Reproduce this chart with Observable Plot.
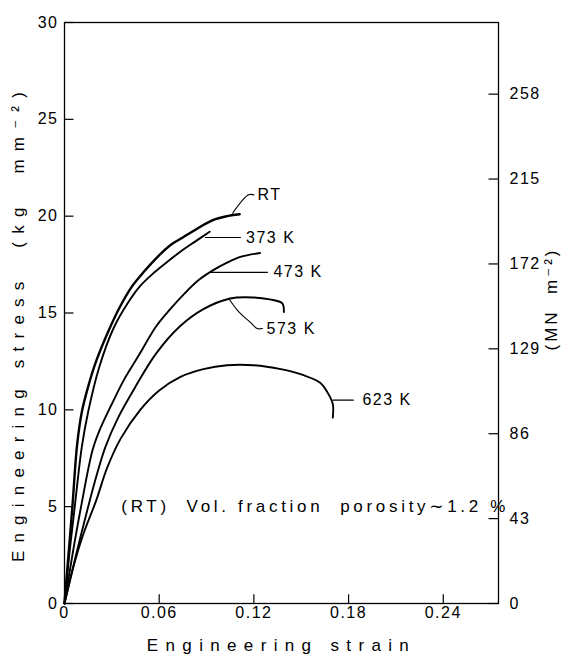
<!DOCTYPE html>
<html>
<head>
<meta charset="utf-8">
<script src="https://cdn.jsdelivr.net/npm/d3@7"></script>
<script src="https://cdn.jsdelivr.net/npm/@observablehq/plot@0.6"></script>
<style>
  html, body { margin: 0; padding: 0; background: #fff; }
  #chart svg { display: block; }
</style>
</head>
<body>
<div id="chart"></div>
<script>
// ---- data: [engineering strain, engineering stress (kg mm^-2)] ----
const curveRT = [[0,0],[0.002,2],[0.005,5],[0.008,8.2],[0.011,9.9],[0.015,11.2],[0.02,12.5],[0.028,14.1],[0.035,15.3],[0.043,16.4],[0.05,17.1],[0.059,17.9],[0.067,18.5],[0.075,18.9],[0.085,19.4],[0.094,19.8],[0.103,20.0],[0.111,20.1]];
const curve373 = [[0,0],[0.003,2.5],[0.0065,5],[0.011,8.1],[0.015,9.9],[0.022,12.2],[0.031,14.2],[0.04,15.5],[0.048,16.4],[0.057,17.1],[0.066,17.7],[0.074,18.2],[0.083,18.7],[0.092,19.2]];
const curve473 = [[0,0],[0.005,2.5],[0.0105,5],[0.0177,7.9],[0.022,8.9],[0.03,10.3],[0.038,11.6],[0.047,12.8],[0.058,14.3],[0.067,15.2],[0.076,16.0],[0.085,16.7],[0.094,17.2],[0.103,17.6],[0.1115,17.9],[0.124,18.1]];
const curve573 = [[0,0],[0.007,2.4],[0.015,5],[0.021,6.8],[0.026,8.1],[0.034,9.6],[0.045,11.2],[0.058,12.9],[0.073,14.3],[0.088,15.2],[0.105,15.75],[0.12,15.8],[0.13,15.7],[0.138,15.5],[0.139,15.05]];
const curve623 = [[0,0],[0.006,2.0],[0.012,3.6],[0.02,5.3],[0.027,7.0],[0.0355,8.5],[0.048,10.0],[0.06,11.0],[0.0735,11.7],[0.088,12.1],[0.103,12.3],[0.12,12.3],[0.137,12.1],[0.151,11.8],[0.162,11.4],[0.167,10.85],[0.170,10.3],[0.170,9.6]];

// curve labels and their leader lines
const labelNames = ["RT", "373 K", "473 K", "573 K", "623 K"];
const labelX = [0.1223, 0.115, 0.1324, 0.128, 0.1888];
const labelY = [21.1, 18.9, 17.1, 14.2, 10.5];
const leaderRT = [[0.1065,20.15],[0.1166,21.1],[0.120,21.1]];
const leader373 = [[0.0893,18.9],[0.1115,18.9]];
const leader473 = [[0.0925,17.1],[0.1286,17.1]];
const leader573 = [[0.104,15.76],[0.110,15.1],[0.118,14.5],[0.122,14.2],[0.1255,14.2]];
const leader623 = [[0.170,10.5],[0.183,10.5]];

const noteText = "(RT)  Vol. fraction  porosity∼1.2 %";
const noteX = [0.036];
const noteY = [5.0];

// ticks
const xTicks = [0, 0.06, 0.12, 0.18, 0.24];
const yTicks = [0, 5, 10, 15, 20, 25, 30];
const mnTicks = [0, 43, 86, 129, 172, 215, 258];
const KG_TO_MN = 9.81;

// titles
const xTitle = "Engineering strain";
const yTitle = "Engineering stress  (kg  mm⁻²)";
const y2Title = "(MN  m⁻²)";

const xMax = 0.275;
const rightTickPos = mnTicks.map(v => v / KG_TO_MN);
const px = d => d[0], py = d => d[1];
const FONT = "Liberation Sans, DejaVu Sans, sans-serif";

const curveOpts = {x: px, y: py, stroke: "black", strokeWidth: 1.9, curve: "catmull-rom"};
const leaderOpts = {x: px, y: py, stroke: "black", strokeWidth: 1.1, curve: "catmull-rom"};

const chart = Plot.plot({
  width: 571,
  height: 664,
  marginTop: 22,
  marginBottom: 61,
  marginLeft: 64,
  marginRight: 73,
  style: {fontFamily: FONT, fontSize: "15px", color: "black", background: "white"},
  x: {domain: [0, xMax]},
  y: {domain: [0, 30]},
  marks: [
    Plot.frame({stroke: "black", strokeWidth: 1.3}),
    Plot.axisX(xTicks, {tickSize: 0, tickPadding: 3, fontSize: 16, label: null,
      tickFormat: d => d === 0 ? "0" : d.toFixed(2)}),
    Plot.axisY(yTicks, {tickSize: 0, tickPadding: 6, fontSize: 16, label: null}),
    Plot.axisY(rightTickPos, {anchor: "right", tickSize: 0, tickPadding: 11, fontSize: 16, label: null,
      tickFormat: d => String(Math.round(d * KG_TO_MN))}),
    Plot.ruleX(xTicks, {y1: 0, y2: 0.45, stroke: "black", strokeWidth: 1.2}),
    Plot.ruleY(yTicks, {x1: 0, x2: 0.006, stroke: "black", strokeWidth: 1.2}),
    Plot.ruleY(rightTickPos, {x1: xMax - 0.006, x2: xMax, stroke: "black", strokeWidth: 1.2}),

    Plot.line(curveRT, {...curveOpts, strokeWidth: 2.4}),
    Plot.line(curve373, curveOpts),
    Plot.line(curve473, curveOpts),
    Plot.line(curve573, curveOpts),
    Plot.line(curve623, curveOpts),

    Plot.line(leaderRT, leaderOpts),
    Plot.line(leader373, leaderOpts),
    Plot.line(leader473, leaderOpts),
    Plot.line(leader573, leaderOpts),
    Plot.line(leader623, leaderOpts),

    Plot.text(labelNames, {x: (d, i) => labelX[i], y: (d, i) => labelY[i], text: d => d,
      textAnchor: "start", fontSize: 16, fill: "black"}),
    Plot.text([noteText], {x: (d, i) => noteX[i], y: (d, i) => noteY[i], text: d => d,
      textAnchor: "start", fontSize: 17, fill: "black"}),

    Plot.text([xTitle], {frameAnchor: "bottom", textAnchor: "middle", dy: 47, fontSize: 17, fill: "black"}),
    Plot.text([yTitle], {frameAnchor: "left", textAnchor: "middle", dx: -46, dy: 10, rotate: -90, fontSize: 17, fill: "black"}),
    Plot.text([y2Title], {frameAnchor: "right", textAnchor: "middle", dx: 53, dy: -14, rotate: -90, fontSize: 17, fill: "black"})
  ]
});
document.getElementById("chart").append(chart);

// widen the lettering like the original hand-lettered figure
const targetWidths = new Map([[noteText, 384], [xTitle, 262], [yTitle, 470], [y2Title, 100]]);
d3.select(chart).selectAll("text").each(function () {
  const t = this.textContent;
  const n = t.length;
  if (targetWidths.has(t)) {
    const natural = this.getComputedTextLength();
    const sp = Math.max(0, (targetWidths.get(t) - natural) / Math.max(1, n - 1));
    this.setAttribute("letter-spacing", sp.toFixed(2) + "px");
  } else if (labelNames.includes(t)) {
    this.setAttribute("letter-spacing", "1.5px");
  } else {
    this.setAttribute("letter-spacing", "1.5px");
  }
});
</script>
</body>
</html>
